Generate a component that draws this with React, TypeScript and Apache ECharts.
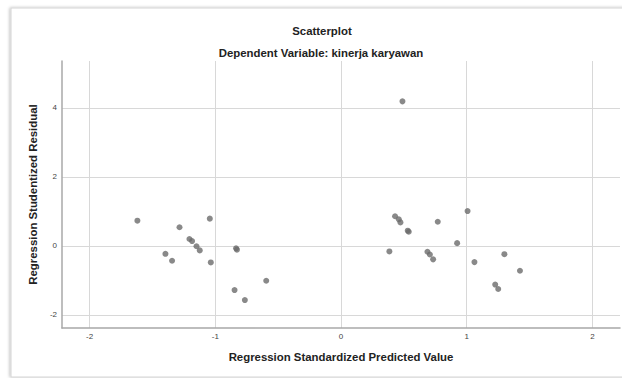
import React, { useEffect, useRef } from "react";
import * as echarts from "echarts";

const chartTitle = "Scatterplot";
const chartSubtitle = "Dependent Variable: kinerja karyawan";
const xAxisName = "Regression Standardized Predicted Value";
const yAxisName = "Regression Studentized Residual";

const xTicks = [-2, -1, 0, 1, 2];
const yTicks = [-2, 0, 2, 4];

const predicted = [
  -1.62, -1.285, -1.044, -1.206, -1.185, -1.15, -1.124, -1.397, -1.344, -1.036,
  -0.835, -0.828, -0.595, -0.847, -0.765,
  0.489, 0.43, 0.46, 0.473, 0.531, 0.539, 0.77, 1.007, 0.924, 0.385,
  0.688, 0.707, 0.733, 1.062, 1.3, 1.424, 1.227, 1.251,
];
const residual = [
  0.73, 0.54, 0.79, 0.2, 0.14, -0.01, -0.13, -0.23, -0.43, -0.48,
  -0.07, -0.11, -1.01, -1.28, -1.57,
  4.19, 0.86, 0.77, 0.68, 0.44, 0.41, 0.7, 1.01, 0.08, -0.16,
  -0.17, -0.25, -0.39, -0.47, -0.24, -0.72, -1.12, -1.25,
];

export default function App() {
  const ref = useRef<HTMLDivElement>(null);
  useEffect(() => {
    document.body.style.margin = "0";
    if (!ref.current) return;
    const chart = echarts.init(ref.current, null, { renderer: "svg" });
    const font = "'Liberation Sans', Arial, sans-serif";
    const bold = { fontFamily: font, fontSize: 11.4, fontWeight: "bold", color: "#222" };
    chart.setOption({
      animation: false,
      backgroundColor: "#ffffff",
      graphic: [
        {
          type: "rect",
          shape: { x: 11, y: 8, width: 640, height: 369 },
          style: {
            fill: "#ffffff",
            stroke: "#d4d4d4",
            lineWidth: 1,
            shadowBlur: 3,
            shadowColor: "rgba(0,0,0,0.25)",
            shadowOffsetX: -1,
            shadowOffsetY: 0,
          },
          z: -10,
          silent: true,
        },
      ],
      title: [
        {
          text: chartTitle,
          left: 322,
          top: 25,
          padding: 0,
          textAlign: "center",
          textStyle: bold,
        },
        {
          text: chartSubtitle,
          left: 321,
          top: 47,
          padding: 0,
          textAlign: "center",
          textStyle: bold,
        },
      ],
      grid: { left: 62, right: 2, top: 61, bottom: 50, containLabel: false },
      xAxis: {
        type: "value",
        min: -2.22,
        max: 2.22,
        name: xAxisName,
        nameLocation: "middle",
        nameGap: 23,
        nameTextStyle: bold,
        axisLine: { show: true, onZero: false, lineStyle: { color: "#a8a8a8", width: 1.5 } },
        axisTick: { show: false, customValues: xTicks },
        axisLabel: {
          customValues: xTicks,
          fontFamily: font,
          fontSize: 8,
          color: "#444",
          margin: 4,
        },
        splitLine: { show: true, lineStyle: { color: "#d8d8d8", width: 1 } },
      },
      yAxis: {
        type: "value",
        min: -2.38,
        max: 5.36,
        name: yAxisName,
        nameLocation: "middle",
        nameGap: 22,
        nameRotate: 90,
        nameTextStyle: bold,
        axisLine: { show: true, onZero: false, lineStyle: { color: "#a8a8a8", width: 1.5 } },
        axisTick: { show: false, customValues: yTicks },
        axisLabel: {
          customValues: yTicks,
          fontFamily: font,
          fontSize: 8,
          color: "#444",
          margin: 5,
        },
        splitLine: { show: true, lineStyle: { color: "#d8d8d8", width: 1 } },
      },
      series: [
        {
          type: "scatter",
          symbol: "circle",
          symbolSize: 6,
          itemStyle: { color: "#6b6b6b" },
          data: predicted.map((x, i) => [x, residual[i]]),
        },
      ],
    });
    return () => chart.dispose();
  }, []);
  return <div ref={ref} style={{ width: 622, height: 378 }} />;
}
